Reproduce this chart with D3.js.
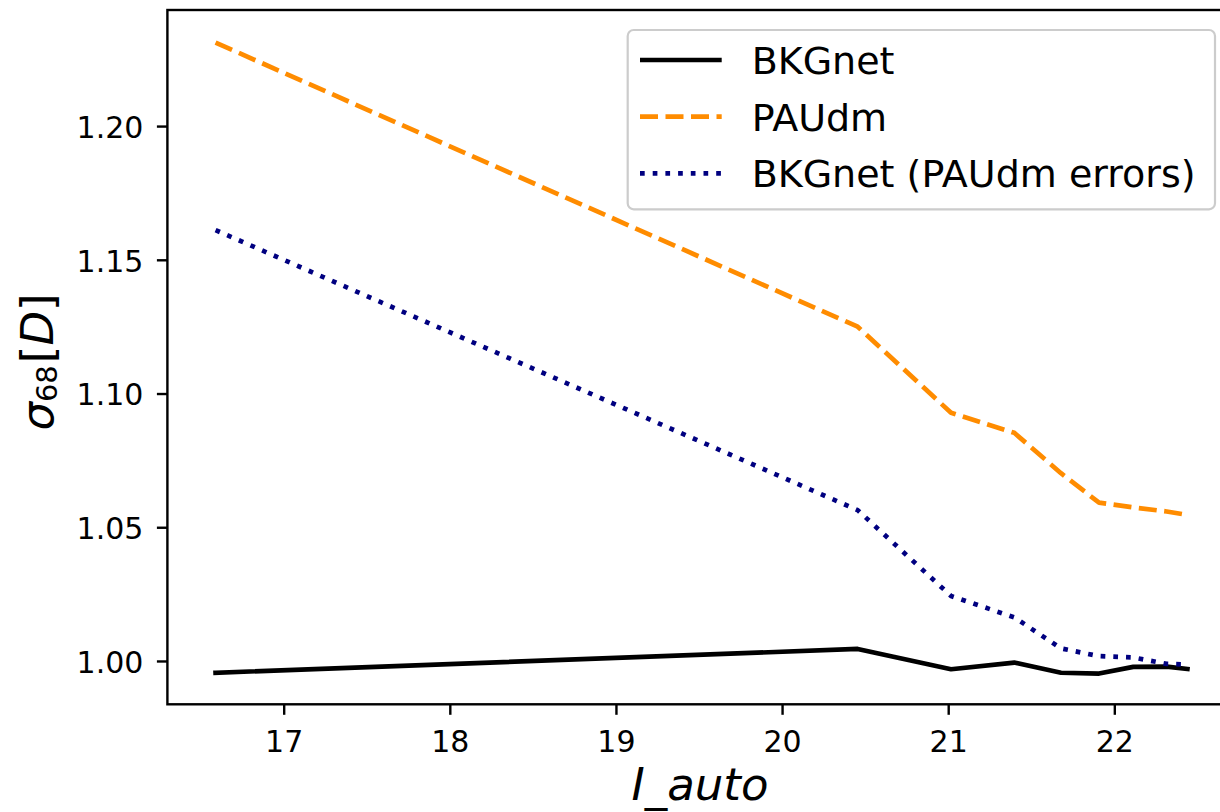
<!DOCTYPE html>
<html>
<head>
<meta charset="utf-8">
<script src="https://d3js.org/d3.v7.min.js"></script>
<style>
  html, body { margin: 0; padding: 0; background: #fff; }
  svg { display: block; }
  text { font-family: "DejaVu Sans", sans-serif; fill: #000; }
</style>
</head>
<body>
<svg id="chart" width="1220" height="812"></svg>
<script>
// Magnitude bin centres (I_auto) and sigma_68 of D per bin
const magBins = [16.59, 20.455, 21.017, 21.398, 21.679, 21.908, 22.114, 22.315, 22.440];
const bkgnet = [0.9956, 1.0045, 0.9969, 0.9994, 0.9956, 0.9953, 0.9978, 0.9979, 0.9970];
const paudm = [1.2312, 1.1250, 1.0928, 1.0853, 1.0702, 1.0592, 1.0574, 1.0559, 1.0546];
const bkgnetPaudmErrors = [1.1611, 1.0564, 1.0243, 1.0163, 1.0047, 1.0018, 1.0013, 0.9989, 0.9987];

const seriesNames = ["BKGnet", "PAUdm", "BKGnet (PAUdm errors)"];
const seriesColors = ["#000000", "#ff8c00", "#000080"];
const seriesDash = [null, "18,7.5", "4.7,8"];
const seriesCaps = ["square", "butt", "butt"];

const xTicks = [17, 18, 19, 20, 21, 22];
const yTicks = [1.00, 1.05, 1.10, 1.15, 1.20];
const xLabel = "I_auto";

const svg = d3.select("#chart");
svg.append("rect").attr("width", 1220).attr("height", 812).attr("fill", "#fff");

const plot = { left: 167.4, right: 1235.6, top: 10, bottom: 704.3 };

const x = d3.scaleLinear().domain([16.30, 22.73]).range([plot.left, plot.right]);
const y = d3.scaleLinear().domain([0.9838, 1.2434]).range([plot.bottom, plot.top]);

const series = [bkgnet, paudm, bkgnetPaudmErrors];
const lw = 4.7;

const line = d3.line()
  .x((d, i) => x(magBins[i]))
  .y(d => y(d));

const lines = svg.append("g");
series.forEach((vals, k) => {
  const p = lines.append("path")
    .datum(vals)
    .attr("d", line)
    .attr("fill", "none")
    .attr("stroke", seriesColors[k])
    .attr("stroke-width", lw)
    .attr("stroke-linejoin", "round")
    .attr("stroke-linecap", seriesCaps[k]);
  if (seriesDash[k]) p.attr("stroke-dasharray", seriesDash[k]);
});

// Axes
const xAxis = d3.axisBottom(x).tickValues(xTicks).tickFormat(d3.format("d"))
  .tickSizeInner(10.5).tickSizeOuter(0).tickPadding(0);
const gx = svg.append("g").attr("transform", `translate(0,${plot.bottom})`).call(xAxis);
gx.select(".domain").remove();
gx.selectAll(".tick line").attr("stroke", "#000").attr("stroke-width", 2.4);
gx.selectAll(".tick text")
  .attr("y", 47.4).attr("dy", 0)
  .attr("font-size", 30).attr("font-family", "DejaVu Sans").attr("fill", "#000");

const yAxis = d3.axisLeft(y).tickValues(yTicks).tickFormat(d3.format(".2f"))
  .tickSizeInner(10.5).tickSizeOuter(0).tickPadding(13.5);
const gy = svg.append("g").attr("transform", `translate(${plot.left},0)`).call(yAxis);
gy.select(".domain").remove();
gy.selectAll(".tick line").attr("stroke", "#000").attr("stroke-width", 2.4);
gy.selectAll(".tick text")
  .attr("dy", "0.38em")
  .attr("font-size", 30).attr("font-family", "DejaVu Sans").attr("fill", "#000");

// Spines
svg.append("rect")
  .attr("x", plot.left).attr("y", plot.top)
  .attr("width", plot.right - plot.left).attr("height", plot.bottom - plot.top)
  .attr("fill", "none").attr("stroke", "#000").attr("stroke-width", 2.4);

// Axis labels
svg.append("text")
  .attr("x", (plot.left + plot.right) / 2 - 1.5).attr("y", 800)
  .attr("text-anchor", "middle")
  .attr("font-size", 45).attr("font-style", "italic")
  .text(xLabel);

const ylab = svg.append("text")
  .attr("transform", "translate(53,362) rotate(-90)")
  .attr("text-anchor", "middle")
  .attr("font-size", 45);
ylab.append("tspan").attr("font-style", "italic").text("σ");
ylab.append("tspan").attr("font-size", 29).attr("dy", 4).text("68");
ylab.append("tspan").attr("dy", -4).attr("dx", 2).text("[");
ylab.append("tspan").attr("font-style", "italic").text("D");
ylab.append("tspan").text("]");

// Legend
const legend = svg.append("g");
legend.append("rect")
  .attr("x", 627.7).attr("y", 30)
  .attr("width", 587.3).attr("height", 179.3)
  .attr("rx", 6).attr("ry", 6)
  .attr("fill", "#fff").attr("fill-opacity", 0.8)
  .attr("stroke", "#cccccc").attr("stroke-width", 2.2);

const rowY = d3.scalePoint().domain(seriesNames).range([60, 173.3]);
seriesNames.forEach((name, k) => {
  const cy = rowY(name);
  const h = legend.append("line")
    .attr("x1", 640).attr("x2", 721.7)
    .attr("y1", cy).attr("y2", cy)
    .attr("stroke", seriesColors[k])
    .attr("stroke-width", lw)
    .attr("stroke-linecap", k === 0 ? "butt" : seriesCaps[k]);
  if (seriesDash[k]) h.attr("stroke-dasharray", seriesDash[k]);
  legend.append("text")
    .attr("x", 751.7).attr("y", cy + 14)
    .attr("font-size", 38)
    .text(name);
});
</script>
</body>
</html>
